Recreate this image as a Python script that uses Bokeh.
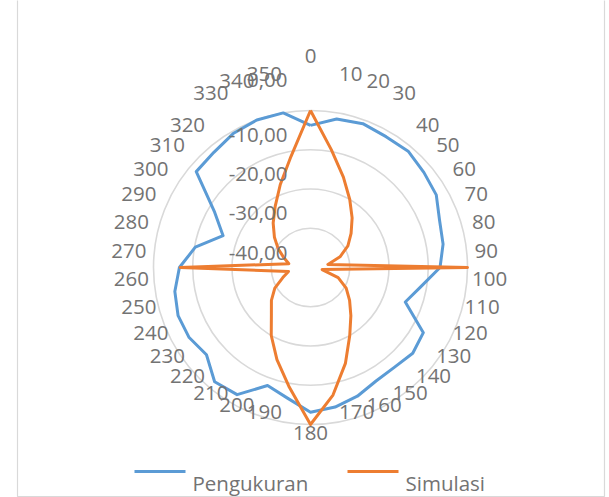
import math
from bokeh.plotting import figure
from bokeh.models import Range1d
from bokeh.core.properties import value
from bokeh.embed import file_html
from bokeh.resources import INLINE

# ---------------- data ----------------
angles = [0, 10, 20, 30, 40, 50, 60, 70, 80, 90, 100, 110, 120, 130, 140, 150, 160, 170,
          180, 190, 200, 210, 220, 230, 240, 250, 260, 270, 280, 290, 300, 310, 320, 330, 340, 350]
angle_labels = ["0", "10", "20", "30", "40", "50", "60", "70", "80", "90", "100", "110", "120",
                "130", "140", "150", "160", "170", "180", "190", "200", "210", "220", "230",
                "240", "250", "260", "270", "280", "290", "300", "310", "320", "330", "340", "350"]
pengukuran = [-3.8, -1.6, -1.0, -1.5, -1.3, -2.3, -3.0, -5.0, -5.7, -7.0, -11.5, -14.3, -6.8,
              -6.0, -6.8, -6.6, -5.1, -3.9, -3.1, -6.2, -8.0, -2.6, -2.0, -5.4, -4.3, -4.1,
              -4.9, -6.6, -10.2, -16.3, -11.8, -2.0, -1.7, -0.6, 0.0, 0.0]
simulasi = [0.0, -9.5, -15.5, -20.0, -23.5, -26.5, -29.0, -32.0, -35.5, 0.0, -37.0, -32.5,
            -29.5, -27.0, -24.0, -20.0, -14.0, -7.0, 0.0, -9.0, -15.0, -20.0, -24.5, -27.0,
            -29.5, -32.5, -34.3, -6.8, -34.4, -32.8, -30.5, -28.0, -25.2, -22.0, -17.5, -11.3]
ring_values = [-40, -30, -20, -10, 0]
ring_labels = ["-40,00", "-30,00", "-20,00", "-10,00", "0,00"]
series_names = ["Pengukuran", "Simulasi"]

# ---------------- layout / style ----------------
W, H = 609, 497
CX, CY = 310, 267            # chart centre in picture pixels
R_OUT = 157.0                # outer ring radius (px)
R_LAB = 164.0                # category-label anchor radius (px)
LAB_RISE = 17.0              # labels sit above their anchor
# Excel's overlap nudges for crowded labels near the top / bottom (px, upward positive)
NUDGE = {0: 31, 10: 15, 20: 15, 30: 15, 330: 15, 340: 15, 350: 15, 180: -18}
V_MIN, V_MAX = ring_values[0], ring_values[-1]
FONT = value("Open Sans")
FS = "20.5px"
TXT = "#737373"
GRID = "#D9D9D9"
BLUE = "#5B9BD5"
ORANGE = "#ED7D31"


def rad(v):
    return (v - V_MIN) / (V_MAX - V_MIN) * R_OUT


def polar_xy(vals):
    xs, ys = [], []
    for a, v in zip(angles + [angles[0]], vals + [vals[0]]):
        t = math.radians(a)
        r = rad(v)
        xs.append(r * math.sin(t))
        ys.append(r * math.cos(t))
    return xs, ys


p = figure(width=W, height=H, output_backend="svg", toolbar_location=None,
           x_range=Range1d(-CX, W - CX), y_range=Range1d(CY - H, CY),
           x_axis_type=None, y_axis_type=None, min_border=0, outline_line_color=None)
p.grid.visible = False
p.background_fill_color = "white"
p.border_fill_color = "white"

# chart-area border
bx0, bx1, by0, by1 = 17 - CX, 604 - CX, CY - 496, CY + 20
p.line([bx0, bx0, bx1, bx1], [by1, by0, by0, by1], line_color=GRID, line_width=1.2)

# rings
for v in ring_values[1:]:
    p.circle(x=0, y=0, radius=rad(v), fill_color=None, line_color=GRID, line_width=1.6)

# series
for vals, col in zip([pengukuran, simulasi], [BLUE, ORANGE]):
    xs, ys = polar_xy(vals)
    p.line(xs, ys, line_color=col, line_width=3, line_join="round")

# category labels, grouped by alignment
groups = {"left": ([], [], []), "right": ([], [], []), "center": ([], [], [])}
for a, lab in zip(angles, angle_labels):
    t = math.radians(a)
    x = R_LAB * math.sin(t)
    y = R_LAB * math.cos(t) + LAB_RISE + NUDGE.get(a, 0)
    if a in (0, 180):
        key = "center"
    elif a < 180:
        key = "left"
    else:
        key = "right"
    groups[key][0].append(x)
    groups[key][1].append(y)
    groups[key][2].append(lab)
for align, (gx, gy, gt) in groups.items():
    p.text(x=gx, y=gy, text=gt, text_font=FONT, text_font_size=FS,
           text_color=TXT, text_align=align, text_baseline="middle")

# value-axis labels
vx, vy = [], []
for i, v in enumerate(ring_values):
    vx.append(287 - CX)
    vy.append(rad(v) + (31 if i == len(ring_values) - 1 else 15))
p.text(x=vx, y=vy, text=ring_labels, text_font=FONT, text_font_size=FS,
       text_color=TXT, text_align="right", text_baseline="middle")

# legend
leg_y = CY - 471
leg_items = [(134, BLUE), (347, ORANGE)]
for (x0, col), name in zip(leg_items, series_names):
    p.line([x0 - CX, x0 + 51 - CX], [leg_y, leg_y], line_color=col, line_width=3)
    p.text(x=[x0 + 58 - CX], y=[CY - 482], text=[name], text_font=FONT,
           text_font_size=FS, text_color=TXT, text_align="left",
           text_baseline="middle")

open("out.html", "w").write(file_html(p, INLINE))
